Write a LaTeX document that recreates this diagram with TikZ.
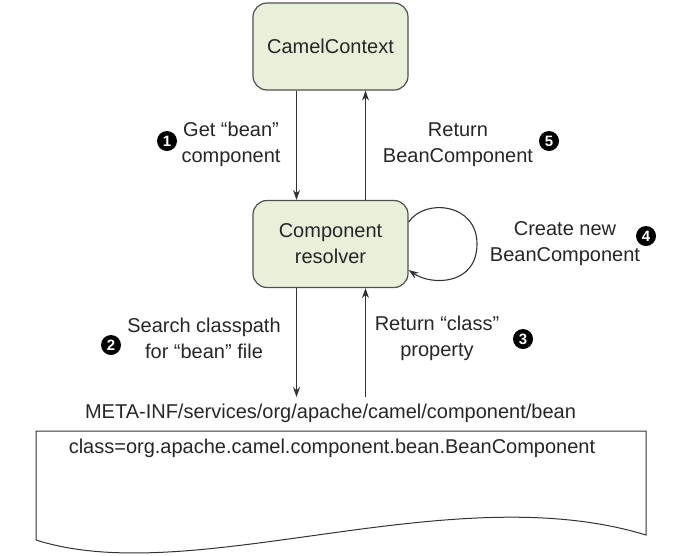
\documentclass[tikz,border=0pt]{standalone}
\usepackage{fontspec}
\setmainfont{Liberation Sans}
\usetikzlibrary{arrows.meta}
\definecolor{boxfill}{HTML}{E8F0DA}
\definecolor{boxline}{HTML}{505050}
\definecolor{lineclr}{HTML}{333333}
\begin{document}
\begin{tikzpicture}[x=1pt,y=-1pt,
  every node/.style={font=\fontsize{20}{26}\selectfont, text=black!85},
  comp/.style={draw=boxline, line width=1.2pt, fill=boxfill, rounded corners=14pt,
    minimum width=155pt, minimum height=87pt, align=center, inner sep=0pt},
  lbl/.style={align=center, inner sep=0pt},
  num/.style={circle, fill=black, text=white, inner sep=0pt, minimum size=20pt,
    font=\fontsize{15}{15}\selectfont\bfseries},
  arr/.style={draw=lineclr, line width=1.1pt, -{Stealth[length=10pt,width=7pt]}}]
\useasboundingbox (0,0) rectangle (676,555);

\node[comp] (cc) at (330.5,46.5) {CamelContext};
\node[comp] (cr) at (330.5,244) {Component\\resolver};

% document
\draw[draw=lineclr, line width=1pt, fill=white] (36,431) -- (646,431) -- (646,535)
  .. controls (450,475) and (193,590) .. (36,540) -- cycle;
\node[lbl] (meta) at (330.5,413) {META-INF/services/org/apache/camel/component/bean};
\node[lbl] (cls) at (332,448) {class=org.apache.camel.component.bean.BeanComponent};

\coordinate (lowL) at (296.5,397);
\coordinate (lowR) at (365.5,397);

% arrows
\draw[arr] ([xshift=-34pt]cc.south) -- ([xshift=-34pt]cr.north);
\draw[arr] ([xshift=35pt]cr.north) -- ([xshift=35pt]cc.south);
\draw[arr] ([xshift=-34pt]cr.south) -- (lowL);
\draw[arr] (lowR) -- ([xshift=35pt]cr.south);

% loop
\draw[arr] ([yshift=22pt]cr.east) .. controls (425,198) and (477,203) .. (477,244)
  .. controls (477,285) and (432,286) .. ([yshift=-26pt]cr.east);

% labels
\node[lbl] (l1) at (231,144.5) {Get “bean”\\component};
\node[lbl] (l5) at (458,144.5) {Return\\BeanComponent};
\node[lbl] (l4) at (565,243.5) {Create new\\BeanComponent};
\node[lbl] (l2) at (204,338) {Search classpath\\for “bean” file};
\node[lbl] (l3) at (437,338) {Return “class”\\property};

% numbers
\node[num] (n1) at (167,141) {1};
\node[num] (n5) at (549,141) {5};
\node[num] (n4) at (646,236) {4};
\node[num] (n2) at (111,345) {2};
\node[num] (n3) at (523,339) {3};
\end{tikzpicture}
\end{document}
